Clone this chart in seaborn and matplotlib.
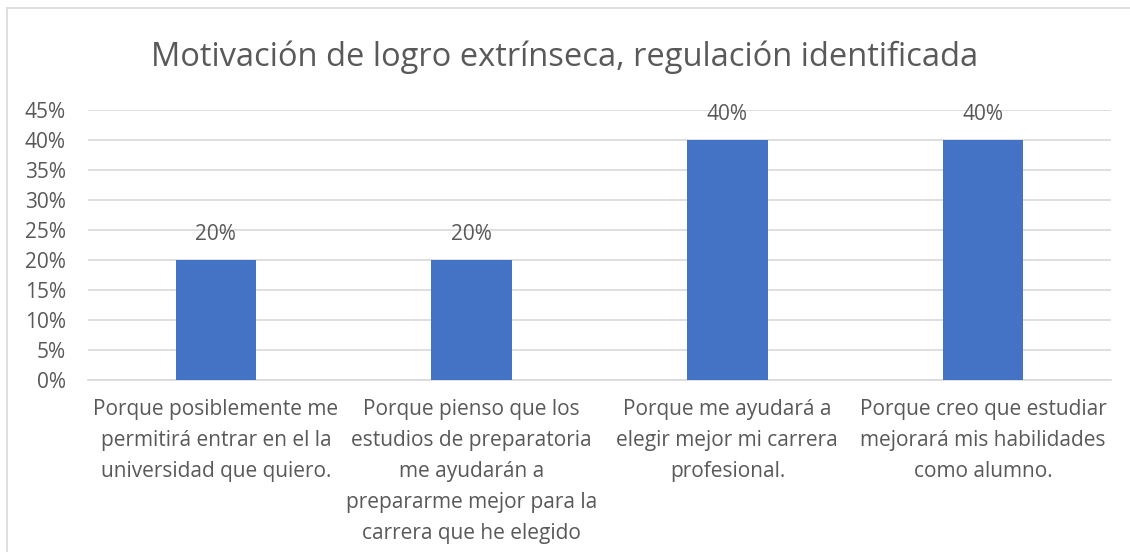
import matplotlib
matplotlib.use("Agg")
import matplotlib.pyplot as plt
import seaborn as sns
import pandas as pd
from matplotlib.ticker import PercentFormatter
from matplotlib.lines import Line2D

categorias = [
    "Porque posiblemente me\npermitirá entrar en el la\nuniversidad que quiero.",
    "Porque pienso que los\nestudios de preparatoria\nme ayudarán a\nprepararme mejor para la\ncarrera que he elegido",
    "Porque me ayudará a\nelegir mejor mi carrera\nprofesional.",
    "Porque creo que estudiar\nmejorará mis habilidades\ncomo alumno.",
]
valores = [0.20, 0.20, 0.40, 0.40]
etiquetas = ["20%", "20%", "40%", "40%"]

df = pd.DataFrame({"categoria": categorias, "valor": valores})

sns.set_style("white")
plt.rcParams["font.family"] = ["Open Sans", "DejaVu Sans"]
gris = "#595959"

fig = plt.figure(figsize=(11.3, 5.52), dpi=100)
ax = fig.add_axes([88 / 1130, 1 - 380 / 552, 1023 / 1130, 270 / 552])

sns.barplot(data=df, x="categoria", y="valor", color="#4472C4", width=0.315,
            saturation=1, linewidth=0, ax=ax, zorder=3)

for i, (v, t) in enumerate(zip(valores, etiquetas)):
    ax.annotate(t, (i, v), xytext=(0, 25), textcoords="offset pixels",
                ha="center", va="center", fontsize=15, color=gris)

ax.set_ylim(0, 0.45)
ax.set_yticks([i * 0.05 for i in range(10)])
ax.yaxis.set_major_formatter(PercentFormatter(1.0, decimals=0))
ax.grid(axis="y", color="#D9D9D9", linewidth=1.2, zorder=0)
ax.set_xlabel("")
ax.set_ylabel("")
for s in ["top", "right", "left"]:
    ax.spines[s].set_visible(False)
ax.spines["bottom"].set_color("#D9D9D9")
ax.spines["bottom"].set_linewidth(1.2)
ax.tick_params(axis="y", length=0, labelsize=15, labelcolor=gris, pad=16)
ax.tick_params(axis="x", length=0, labelsize=15, labelcolor=gris, pad=14)
plt.setp(ax.get_xticklabels(), linespacing=1.62)

fig.text(0.5, 1 - 57 / 552, "Motivación de logro extrínseca, regulación identificada",
         ha="center", va="center", fontsize=23.5, color=gris)

# borde del área del gráfico
fig.lines.append(Line2D([7 / 1130, 7 / 1130], [0, 1 - 8 / 552], transform=fig.transFigure,
                        color="#D9D9D9", linewidth=1.2))
fig.lines.append(Line2D([7 / 1130, 1], [1 - 8 / 552, 1 - 8 / 552], transform=fig.transFigure,
                        color="#D9D9D9", linewidth=1.2))

fig.savefig("out.png", dpi=100)
